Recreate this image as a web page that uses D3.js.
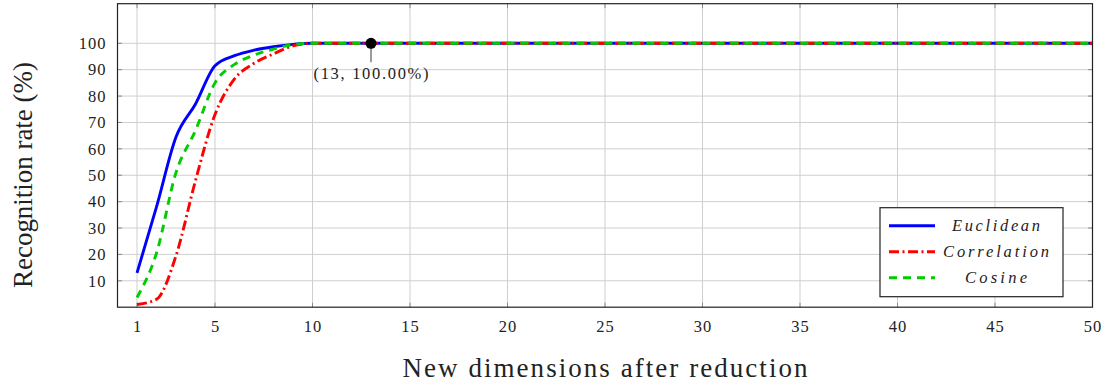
<!DOCTYPE html>
<html>
<head>
<meta charset="utf-8">
<script src="https://cdn.jsdelivr.net/npm/d3@7"></script>
<style>
  body { margin: 0; background: #fff; }
  svg { display: block; }
  .grid line { stroke: #cfcfcf; stroke-width: 1; }
  .tick-mark { stroke: #8a8a8a; stroke-width: 1; }
</style>
</head>
<body>
<div id="chart"></div>
<script>
// Recognition rate vs reduced dimensions

////////////////////////////////////////////////////////////////////////////////
// Data
const dims = [1, 2, 3, 4, 5, 6, 7, 8, 9, 10, 11, 12, 13, 14, 15, 16, 17, 18, 19, 20,
  21, 22, 23, 24, 25, 26, 27, 28, 29, 30, 31, 32, 33, 34, 35, 36, 37, 38, 39, 40,
  41, 42, 43, 44, 45, 46, 47, 48, 49, 50];

const euclidean = [13, 38, 64.5, 77, 91.5, 95.3, 97.4, 98.7, 99.6, 100,
  100, 100, 100, 100, 100, 100, 100, 100, 100, 100,
  100, 100, 100, 100, 100, 100, 100, 100, 100, 100,
  100, 100, 100, 100, 100, 100, 100, 100, 100, 100,
  100, 100, 100, 100, 100, 100, 100, 100, 100, 100];

const correlation = [1, 3, 19.5, 48, 73, 86.5, 92.4, 96, 99, 100,
  100, 100, 100, 100, 100, 100, 100, 100, 100, 100,
  100, 100, 100, 100, 100, 100, 100, 100, 100, 100,
  100, 100, 100, 100, 100, 100, 100, 100, 100, 100,
  100, 100, 100, 100, 100, 100, 100, 100, 100, 100];

const cosine = [3.7, 20.5, 51, 67, 85, 92, 95.5, 97.8, 99.5, 100,
  100, 100, 100, 100, 100, 100, 100, 100, 100, 100,
  100, 100, 100, 100, 100, 100, 100, 100, 100, 100,
  100, 100, 100, 100, 100, 100, 100, 100, 100, 100,
  100, 100, 100, 100, 100, 100, 100, 100, 100, 100];

const seriesNames = ['Euclidean', 'Correlation', 'Cosine'];
const xTicks = [1, 5, 10, 15, 20, 25, 30, 35, 40, 45, 50];
const yTicks = [10, 20, 30, 40, 50, 60, 70, 80, 90, 100];
const marked = { x: 13, y: 100, label: '(13, 100.00%)' };

////////////////////////////////////////////////////////////////////////////////
// Setup
const W = 1117, H = 385;
const serif = "'Liberation Serif'";
const margin = { left: 117.5, top: 3.7, right: 24.5, bottom: 77.8 };
const width = W - margin.left - margin.right;
const height = H - margin.top - margin.bottom;

const x = d3.scaleLinear().domain([0, 50]).range([0, width]);
const y = d3.scaleLinear().domain([0, 115]).range([height, 0]);

const svg = d3.select('#chart').append('svg')
  .attr('width', W)
  .attr('height', H);
const frame = svg.append('g')
  .attr('transform', `translate(${margin.left}, ${margin.top})`);

// grid
const grid = frame.append('g').attr('class', 'grid');
grid.selectAll('.gx').data(xTicks).enter().append('line')
  .attr('x1', d => x(d)).attr('x2', d => x(d))
  .attr('y1', 0).attr('y2', height);
grid.selectAll('.gy').data(yTicks).enter().append('line')
  .attr('y1', d => y(d)).attr('y2', d => y(d))
  .attr('x1', 0).attr('x2', width);

// tick marks inside on every side
const tickLen = 4.5;
xTicks.forEach(t => {
  frame.append('line').attr('class', 'tick-mark')
    .attr('x1', x(t)).attr('x2', x(t)).attr('y1', height).attr('y2', height - tickLen);
  frame.append('line').attr('class', 'tick-mark')
    .attr('x1', x(t)).attr('x2', x(t)).attr('y1', 0).attr('y2', tickLen);
});
yTicks.forEach(t => {
  frame.append('line').attr('class', 'tick-mark')
    .attr('y1', y(t)).attr('y2', y(t)).attr('x1', 0).attr('x2', tickLen);
  frame.append('line').attr('class', 'tick-mark')
    .attr('y1', y(t)).attr('y2', y(t)).attr('x1', width).attr('x2', width - tickLen);
});

// axes (labels only)
const xAxis = d3.axisBottom(x).tickValues(xTicks).tickSize(0).tickPadding(13);
const yAxis = d3.axisLeft(y).tickValues(yTicks).tickSize(0).tickPadding(11);

const gx = frame.append('g')
  .attr('transform', `translate(0, ${height})`)
  .call(xAxis);
const gy = frame.append('g').call(yAxis);
[gx, gy].forEach(g => {
  g.select('.domain').remove();
  g.selectAll('text')
    .style('font-family', serif)
    .attr('font-size', 16.5)
    .attr('letter-spacing', 1)
    .attr('fill', '#222');
});

////////////////////////////////////////////////////////////////////////////////
// Lines
const styles = {
  Euclidean: { color: '#0000ff', dash: null, values: euclidean },
  Correlation: { color: '#ff0000', dash: '10,3.5,2,3.5', values: correlation },
  Cosine: { color: '#00cc00', dash: '8,6', values: cosine },
};

const line = d3.line()
  .x(d => x(d[0]))
  .y(d => y(d[1]))
  .curve(d3.curveMonotoneX);

seriesNames.forEach(name => {
  const s = styles[name];
  frame.append('path')
    .datum(dims.map((d, i) => [d, s.values[i]]))
    .attr('fill', 'none')
    .attr('stroke', s.color)
    .attr('stroke-width', 2.9)
    .attr('stroke-dasharray', s.dash)
    .attr('d', line);
});

// frame border
frame.append('rect')
  .attr('width', width).attr('height', height)
  .attr('fill', 'none').attr('stroke', '#222').attr('stroke-width', 1.2);

// marked point
const px = x(marked.x), py = y(marked.y);
frame.append('line')
  .attr('x1', px).attr('x2', px).attr('y1', py).attr('y2', py + 19)
  .attr('stroke', '#666').attr('stroke-width', 1.3);
frame.append('circle')
  .attr('cx', px).attr('cy', py).attr('r', 5.5)
  .attr('fill', '#000');
frame.append('text')
  .attr('x', px).attr('y', py + 36)
  .attr('text-anchor', 'middle')
  .style('font-family', serif)
  .attr('font-size', 16.5)
  .attr('textLength', 115)
  .attr('fill', '#222')
  .text(marked.label);

////////////////////////////////////////////////////////////////////////////////
// Legend
const legend = svg.append('g').attr('transform', 'translate(880, 207.7)');
legend.append('rect')
  .attr('width', 183).attr('height', 89)
  .attr('fill', '#fff').attr('stroke', '#222').attr('stroke-width', 1.2);
const legendLen = { Euclidean: 88, Correlation: 106, Cosine: 62 };
seriesNames.forEach((name, i) => {
  const s = styles[name];
  const ly = 18 + i * 26;
  legend.append('line')
    .attr('x1', 9).attr('x2', 55).attr('y1', ly).attr('y2', ly)
    .attr('stroke', s.color).attr('stroke-width', 2.9)
    .attr('stroke-dasharray', s.dash);
  legend.append('text')
    .attr('x', 116).attr('y', ly + 5)
    .attr('text-anchor', 'middle')
    .style('font-family', serif)
    .style('font-style', 'italic')
    .attr('font-size', 16.5)
    .attr('textLength', legendLen[name])
    .attr('fill', '#222')
    .text(name);
});

////////////////////////////////////////////////////////////////////////////////
// Axis titles
svg.append('text')
  .attr('x', margin.left + width / 2).attr('y', 377)
  .attr('text-anchor', 'middle')
  .style('font-family', serif)
  .attr('font-size', 27)
  .attr('textLength', 405)
  .attr('fill', '#222')
  .text('New dimensions after reduction');

svg.append('text')
  .attr('transform', 'translate(32, 175) rotate(-90)')
  .attr('text-anchor', 'middle')
  .style('font-family', serif)
  .attr('font-size', 27)
  .attr('textLength', 226)
  .attr('fill', '#222')
  .text('Recognition rate (%)');
</script>
</body>
</html>
